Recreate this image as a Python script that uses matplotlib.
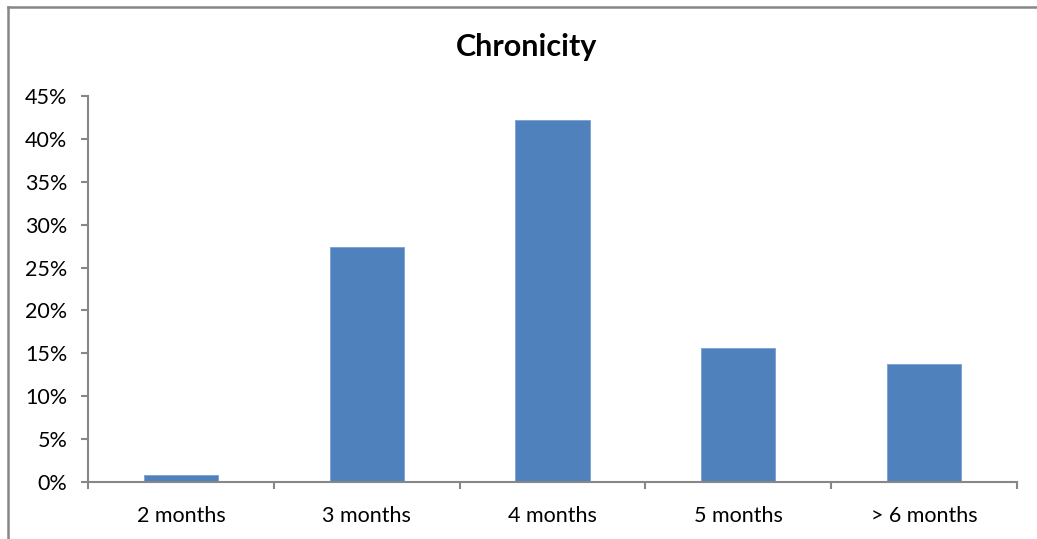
import numpy as np
from matplotlib import pyplot as plt
from matplotlib.lines import Line2D
from matplotlib.ticker import FixedLocator, PercentFormatter

categories = ["2 months", "3 months", "4 months", "5 months", "> 6 months"]
shares = [0.8, 27.4, 42.2, 15.6, 13.7]

GRAY = "#878787"
BLUE = "#4F81BD"

plt.rcParams['font.family'] = ['Lato', 'DejaVu Sans']

fig = plt.figure(figsize=(10.37, 5.39), dpi=100)
ax = fig.add_axes([88 / 1037, 1 - 482 / 539, 929 / 1037, 386 / 539])

x = np.arange(len(categories))
ax.bar(x, shares, width=0.4, color=BLUE, edgecolor="#7A9FD0", linewidth=0.6)

ax.set_xlim(-0.5, len(categories) - 0.5)
ax.set_ylim(0, 45)
ax.set_yticks(np.arange(0, 46, 5))
ax.yaxis.set_major_formatter(PercentFormatter(decimals=0))

# category boundaries get the tick marks, centres get the labels
ax.xaxis.set_major_locator(FixedLocator(np.arange(-0.5, len(categories), 1)))
ax.xaxis.set_minor_locator(FixedLocator(x))
ax.set_xticklabels([], minor=False)
ax.set_xticklabels(categories, minor=True)
ax.tick_params(axis='x', which='major', length=5, width=1.5, color=GRAY, direction='out')
ax.tick_params(axis='x', which='minor', length=0, pad=17, labelsize=15.5)
ax.tick_params(axis='y', length=5, width=1.5, color=GRAY, direction='out', pad=10, labelsize=15.5)

for side in ("top", "right"):
    ax.spines[side].set_visible(False)
for side in ("left", "bottom"):
    ax.spines[side].set_color(GRAY)
    ax.spines[side].set_linewidth(1.5)

fig.text(527 / 1037, 1 - 47 / 539, "Chronicity", ha='center', va='center',
         fontsize=22, fontweight='bold')

# chart area frame
fig.add_artist(Line2D([8 / 1037, 8 / 1037], [0, 1 - 7 / 539], color=GRAY, lw=1.8))
fig.add_artist(Line2D([8 / 1037, 1], [1 - 7 / 539, 1 - 7 / 539], color=GRAY, lw=1.8))

fig.savefig("out.png", dpi=100)
